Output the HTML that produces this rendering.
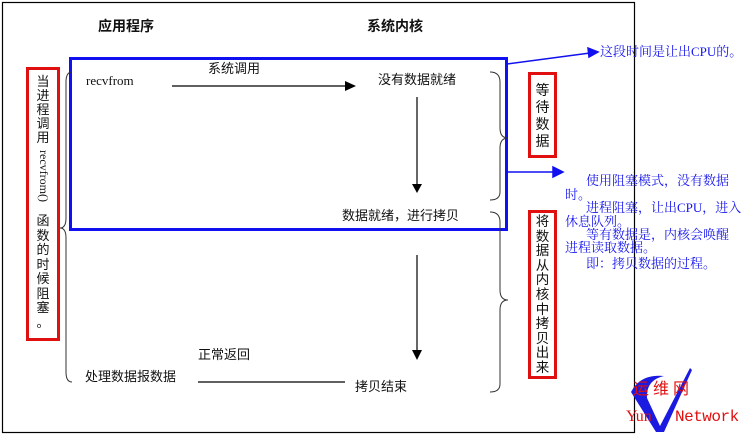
<!DOCTYPE html>
<html><head><meta charset="utf-8"><style>
body{margin:0;width:750px;height:435px;background:#fff;overflow:hidden;position:relative;font-family:"Liberation Sans","Noto Sans CJK SC",sans-serif;}
.t{position:absolute;white-space:nowrap;font-size:13px;color:#111;line-height:1;}
.b{position:absolute;color:#1515ee;font-size:13px;white-space:nowrap;line-height:1;font-family:"Liberation Serif","Noto Serif CJK SC",serif;}
.red{position:absolute;border:3px solid #e01010;box-sizing:border-box;}
.v{position:absolute;font-size:14px;line-height:15px;text-align:center;color:#111;}
</style></head><body>
<svg width="750" height="435" style="position:absolute;left:0;top:0">
<rect x="2.5" y="2.5" width="632" height="430" fill="none" stroke="#000" stroke-width="1.2"/>
<rect x="70.5" y="58.5" width="436" height="171" fill="none" stroke="#1010f0" stroke-width="3"/>
<g stroke="#000" stroke-width="1.2" fill="none">
<line x1="172" y1="86" x2="347" y2="86"/>
<line x1="417" y1="97" x2="417" y2="186"/>
<line x1="417" y1="255" x2="417" y2="352"/>
<line x1="198" y1="382" x2="345" y2="382"/>
</g>
<g fill="#000">
<polygon points="345,81 356,86 345,91"/>
<polygon points="412,184 417,193 422,184"/>
<polygon points="412,350 417,360 422,350"/>
</g>
<g stroke="#333" stroke-width="1" fill="none">
<path d="M490,72 Q500,72 500,82 L500,128 Q500,138 508,138 Q500,138 500,148 L500,192 Q500,200 490,200"/>
<path d="M490,212 Q500,212 500,222 L500,290 Q500,300 508,300 Q500,300 500,310 L500,384 Q500,392 490,392"/>
<path d="M72,72 Q66,72 66,82 L66,218 Q66,228 60,228 Q66,228 66,238 L66,372 Q66,382 72,382"/>
</g>
<g stroke="#1010f0" stroke-width="1.5" fill="#1010f0">
<line x1="507" y1="64" x2="590" y2="53"/>
<polygon points="598,52 588,48 589,57"/>
<line x1="507" y1="172" x2="555" y2="172"/>
<polygon points="563,172 553,167 553,177"/>
</g>
<path d="M631,392 Q640,374 664,376 Q646,380 647,398 L660,426 L690,368 L692,370 L664,432 L656,432 Z" fill="#1a1ae0"/>
</svg>
<div class="t" style="left:98px;top:19px;font-weight:bold;font-size:14px">应用程序</div>
<div class="t" style="left:367px;top:19px;font-weight:bold;font-size:14px">系统内核</div>
<div class="t" style="left:86px;top:74px;font-family:'Liberation Serif',serif">recvfrom</div>
<div class="t" style="left:208px;top:62px">系统调用</div>
<div class="t" style="left:378px;top:73px">没有数据就绪</div>
<div class="t" style="left:342px;top:209px">数据就绪，进行拷贝</div>
<div class="t" style="left:198px;top:348px">正常返回</div>
<div class="t" style="left:85px;top:370px">处理数据报数据</div>
<div class="t" style="left:355px;top:380px">拷贝结束</div>
<div class="red" style="left:26px;top:67px;width:34px;height:274px"></div>
<div class="v" style="left:29px;top:75px;width:28px;font-size:13px;line-height:14px">当<br>进<br>程<br>调<br>用</div>
<div class="t" style="left:50px;top:150px;transform:rotate(90deg);transform-origin:0 0;font-family:'Liberation Serif',serif;font-size:12px">recvfrom()</div>
<div class="v" style="left:29px;top:214px;width:28px;font-size:13px;line-height:14.5px">函<br>数<br>的<br>时<br>候<br>阻<br>塞<br>。</div>
<div class="red" style="left:528px;top:72px;width:29px;height:86px"></div>
<div class="v" style="left:531px;top:82px;width:23px;line-height:17px">等<br>待<br>数<br>据</div>
<div class="red" style="left:528px;top:210px;width:29px;height:169px"></div>
<div class="v" style="left:531px;top:215px;width:23px;font-size:13.5px;line-height:14.6px">将<br>数<br>据<br>从<br>内<br>核<br>中<br>拷<br>贝<br>出<br>来</div>
<div class="b" style="left:600px;top:45px;font-size:13px">这段时间是让出CPU的。</div>
<div class="b" style="left:586px;top:174px">使用阻塞模式，没有数据</div>
<div class="b" style="left:565px;top:188px">时。</div>
<div class="b" style="left:586px;top:201px">进程阻塞，让出CPU，进入</div>
<div class="b" style="left:565px;top:215px">休息队列。</div>
<div class="b" style="left:586px;top:228px">等有数据是，内核会唤醒</div>
<div class="b" style="left:565px;top:241px">进程读取数据。</div>
<div class="b" style="left:586px;top:257px">即：拷贝数据的过程。</div>
<div class="t" style="left:633px;top:382px;color:#e01010;font-size:16px;letter-spacing:4px">运维网</div>
<div class="t" style="left:626px;top:409px;color:#e01010;font-size:16px;font-family:'Liberation Serif',serif">Yun</div>
<div class="t" style="left:675px;top:409px;color:#e01010;font-size:16px;font-family:'Liberation Mono',monospace;letter-spacing:-0.5px">Network</div>
</body></html>
